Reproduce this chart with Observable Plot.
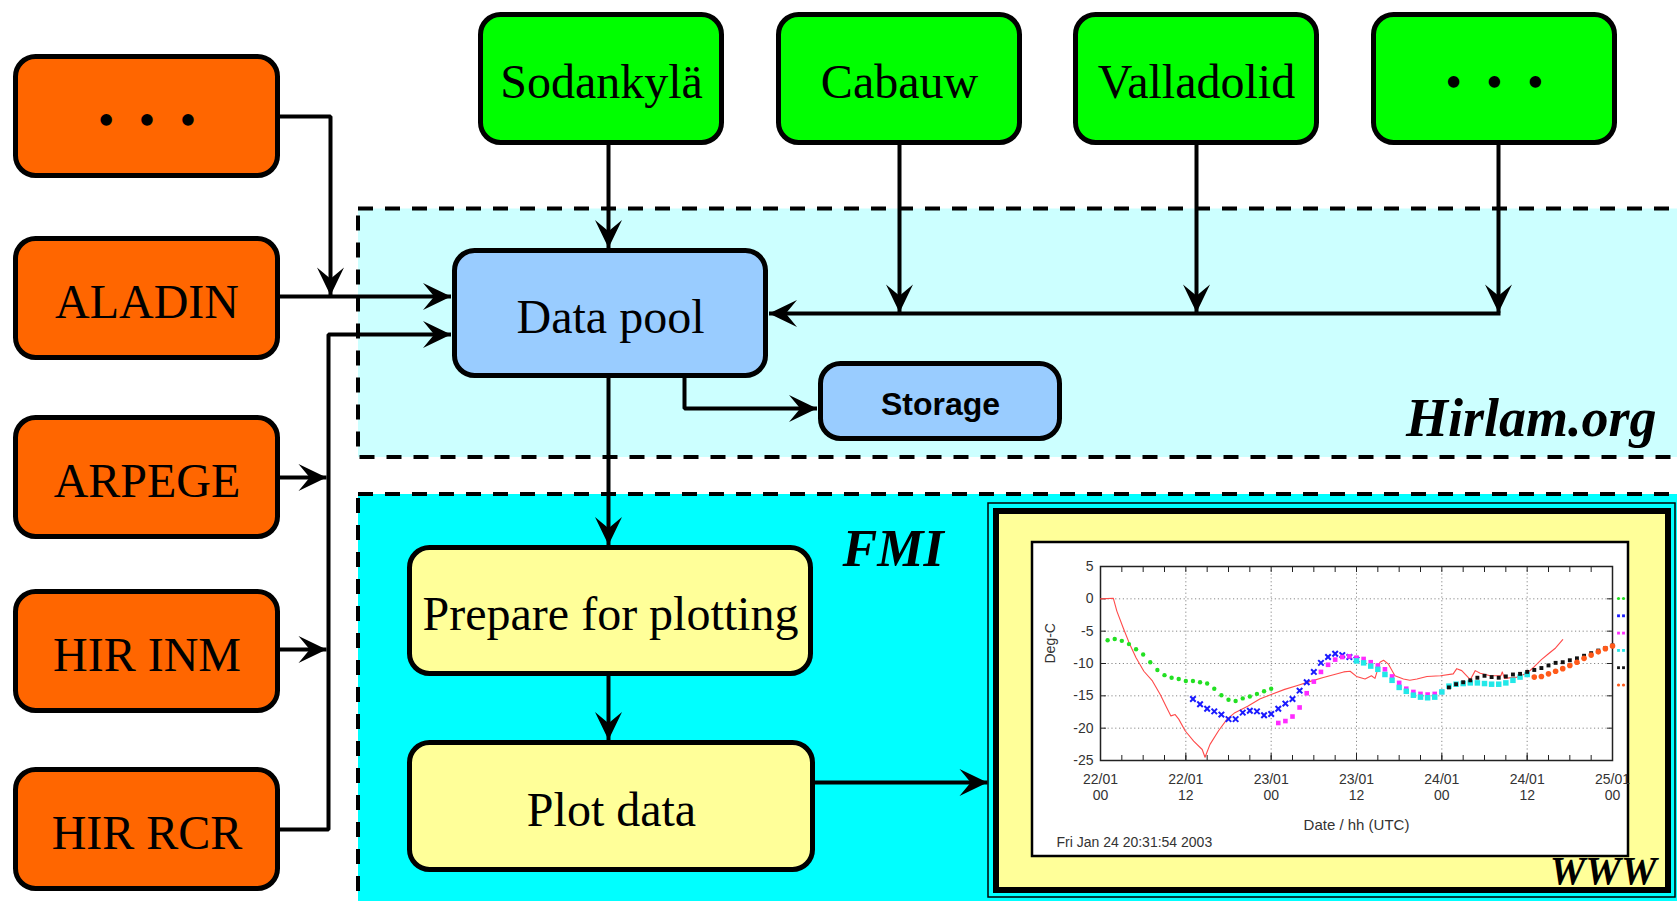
<!DOCTYPE html>
<html>
<head>
<meta charset="utf-8">
<script src="https://cdn.jsdelivr.net/npm/d3@7"></script>
<script src="https://cdn.jsdelivr.net/npm/@observablehq/plot@0.6"></script>
<style>
  html, body { margin: 0; padding: 0; background: #fff; overflow: hidden; }
  #wrap { position: relative; width: 1677px; height: 901px; }
  #chart { position: absolute; left: 1032px; top: 542px; }
</style>
</head>
<body>
<div id="wrap"><div id="diagram"></div><div id="chart"></div></div>
<script>
// ---------------- DATA ----------------
const modelNames   = ["•\u2002•\u2002•", "ALADIN", "ARPEGE", "HIR INM", "HIR RCR"];
const stationNames = ["Sodankylä", "Cabauw", "Valladolid", "•\u2002•\u2002•"];
const hirlamNodes  = ["Data pool", "Storage"];
const fmiNodes     = ["Prepare for plotting", "Plot data"];
const regionNames  = ["Hirlam.org", "FMI", "WWW"];

// embedded temperature chart (hours after 22/01/2003 00 UTC, °C)
const chartStart = Date.UTC(2003, 0, 22);
const chartHours = [0, 72];
const yTicks = [5, 0, -5, -10, -15, -20, -25];
const chartYLabel = "Deg-C";
const chartXLabel = "Date / hh (UTC)";
const chartStamp  = "Fri Jan 24 20:31:54 2003";

const observed = [[0,0],[1.8,0.1],[2.3,-1.9],[3.2,-4.5],[4.1,-7],[5,-9.1],[6.1,-11.2],[7.3,-12.7],[8.4,-14.8],
  [9.3,-16.8],[9.9,-18.1],[10.5,-17.9],[11,-18.6],[11.9,-20.4],[13.1,-22],[14.3,-23.3],[14.7,-24.5],[15.4,-22.5],
  [16.6,-20.4],[17.8,-18.6],[18.9,-17.6],[20.7,-16.6],[22.4,-15.5],[24,-14.8],[25.9,-14],[27.7,-13.4],[29.4,-12.8],
  [31.2,-12.2],[32.9,-11.7],[34.2,-11.3],[35.1,-11.2],[36,-12],[37.2,-12.4],[38.1,-11.9],[38.6,-12.3],[39.3,-9.8],
  [39.8,-9.5],[40.5,-10.1],[41.4,-11.9],[42.6,-12.4],[43.5,-12.6],[44.5,-12.4],[45.9,-12],[47.8,-11.9],[49.6,-11.6],
  [50.1,-10.8],[50.8,-11.1],[52,-12.5],[52.7,-11.1],[53.4,-11.5],[54.8,-11.9],[56.3,-11.9],[56.5,-11.3],[56.8,-12.3],
  [58.6,-12.1],[60,-11.5],[61,-10.5],[62,-9.4],[63,-8.5],[64,-7.6],[65,-6.3]];
const runGreen = [[1,-6.4],[2,-6.2],[3,-6.5],[4,-7],[5,-7.8],[6,-8.6],[7,-9.8],[8,-11],[9,-11.8],[10,-12.2],[11,-12.4],
  [12,-12.7],[13,-12.7],[14,-12.9],[15,-13.1],[16,-13.9],[17,-14.9],[18,-15.6],[19,-15.8],[20,-15.4],[21,-15.1],
  [22,-14.7],[23,-14.3],[24,-13.9]];
const runBlue = [[13,-15.5],[14,-16.3],[15,-17],[16,-17.4],[17,-17.9],[18,-18.6],[19,-18.6],[20,-17.6],[21,-17.3],
  [22,-17.4],[23,-18],[24,-17.8],[25,-17],[26,-16.2],[27,-15.5],[28,-14.2],[29,-12.9],[30,-11.3],[31,-9.9],[32,-9],
  [33,-8.5],[34,-8.7],[35,-9],[36,-9.4]];
const runMagenta = [[25,-19.2],[26,-18.9],[27,-18.2],[28,-16.8],[29,-14.6],[30,-12.8],[31,-11.3],[32,-10.2],[33,-9.4],
  [34,-9],[35,-8.9],[36,-9.1],[37,-9.3],[38,-9.8],[39,-10.3],[40,-10.9],[41,-12],[42,-13],[43,-13.9],[44,-14.4],
  [45,-14.7],[46,-14.8],[47,-14.7],[48,-14.4]];
const runCyan = [[36,-9.6],[37,-9.9],[38,-10.4],[39,-10.9],[40,-11.7],[41,-12.6],[42,-13.7],[43,-14.3],[44,-14.9],
  [45,-15.2],[46,-15.3],[47,-15.2],[48,-14.4],[49,-13.5],[50,-13.2],[51,-13.1],[52,-13],[53,-13],[54,-13.1],[55,-13.2],
  [56,-13.2],[57,-13],[58,-12.6],[59,-12.1],[60,-11.7]];
const runBlack = [[49,-13.7],[50,-13.2],[51,-12.9],[52,-12.6],[53,-12.2],[54,-11.9],[55,-12.1],[56,-12.2],[57,-12],
  [58,-11.7],[59,-11.6],[60,-11.3],[61,-11],[62,-10.7],[63,-10.3],[64,-9.9],[65,-9.8],[66,-9.5],[67,-9.2],[68,-8.8],
  [69,-8.4],[70,-8],[71,-7.6],[72,-7.2]];
const runOrange = [[61,-12.1],[62,-12],[63,-11.6],[64,-11.2],[65,-10.8],[66,-10.3],[67,-9.8],[68,-9.2],[69,-8.7],
  [70,-8.2],[71,-7.7],[72,-7.3]];

// ---------------- LAYOUT / STYLE ----------------
const W = 1677, H = 901;
const C = { orange: "#ff6600", green: "#00ff00", blue: "#99ccff", yellow: "#ffff99",
            lightCyan: "#ccffff", cyan: "#00ffff" };
const modelCy = [116, 298, 477, 651, 829];
const modelX = [15.5, 277.5], modelHalf = 59.5;
const stationLeft = [478, 776, 1073, 1371], stationW = 246, stationY = [14.5, 142.5];
const dataPool = { x1: 454.5, x2: 765.5, y1: 250.5, y2: 375.5 };
const storage  = { x1: 820.5, x2: 1059.5, y1: 363.5, y2: 438.5 };
const prep     = { x1: 409.5, x2: 810.5, y1: 547.5, y2: 673.5 };
const plotBox  = { x1: 409.5, x2: 812.5, y1: 742.5, y2: 869.5 };
const serif = "Liberation Serif, Times New Roman, serif";
const sans = "Liberation Sans, Arial, sans-serif";

const boxes = [
  ...modelNames.map((label, i) => ({ label, x1: modelX[0], x2: modelX[1], y1: modelCy[i] - modelHalf, y2: modelCy[i] + modelHalf, fill: C.orange, kind: "serif" })),
  ...stationNames.map((label, i) => ({ label, x1: stationLeft[i] + 2.5, x2: stationLeft[i] + stationW - 2.5, y1: stationY[0], y2: stationY[1], fill: C.green, kind: "serif" })),
  { label: hirlamNodes[0], ...dataPool, fill: C.blue, kind: "serif" },
  { label: hirlamNodes[1], ...storage, fill: C.blue, kind: "sans" },
  { label: fmiNodes[0], ...prep, fill: C.yellow, kind: "serif" },
  { label: fmiNodes[1], ...plotBox, fill: C.yellow, kind: "serif" }
];
const regions = [
  { x1: 358, x2: 1700, y1: 208.5, y2: 457, fill: C.lightCyan },
  { x1: 358, x2: 1700, y1: 494, y2: 930, fill: C.cyan }
];
const frameOuter = [{ x1: 988, x2: 1675, y1: 503, y2: 897 }];
const frameInner = [{ x1: 996, x2: 1668, y1: 511, y2: 890 }];
const panel = [{ x1: 1032, x2: 1628, y1: 542, y2: 856 }];

const poolCx = 608, busX = 328, dropX = 330;
const stationCx = stationLeft.map((l, i) => i === 0 ? poolCx : l + stationW / 2 + (i === 3 ? 4 : 0));
const feedY = 313;
const links = [
  { id: "m0", head: "down",  pts: [[modelX[1], modelCy[0]], [dropX, modelCy[0]], [dropX, modelCy[1] - 3]] },
  { id: "m1", head: "right", pts: [[modelX[1], modelCy[1] - 2], [dataPool.x1 - 4, modelCy[1] - 2]] },
  { id: "m2", head: "right", pts: [[modelX[1], modelCy[2]], [busX - 2, modelCy[2]]] },
  { id: "m3", head: "right", pts: [[modelX[1], modelCy[3] - 2], [busX - 2, modelCy[3] - 2]] },
  { id: "bus", head: "right", pts: [[modelX[1], modelCy[4]], [busX, modelCy[4]], [busX, 334], [dataPool.x1 - 4, 334]] },
  { id: "s0", head: "down", pts: [[stationCx[0], stationY[1]], [stationCx[0], dataPool.y1 - 3]] },
  ...[1, 2, 3].map(i => ({ id: "s" + i, head: "down", pts: [[stationCx[i], stationY[1]], [stationCx[i], feedY - 1]] })),
  { id: "feed", head: "left", pts: [[stationCx[3] + 2, feedY], [dataPool.x2 + 3, feedY]] },
  { id: "store", head: "right", pts: [[684, dataPool.y2], [684, 408], [storage.x1 - 4, 408]] },
  { id: "prep", head: "down", pts: [[poolCx, dataPool.y2], [poolCx, prep.y1 - 3]] },
  { id: "plot", head: "down", pts: [[poolCx, prep.y2], [poolCx, plotBox.y1 - 3]] },
  { id: "www", head: "right", pts: [[plotBox.x2, 782], [frameOuter[0].x1 - 1, 782]] }
];
const linePts = links.flatMap(l => l.pts.map(([x, y]) => ({ id: l.id, x, y })));
const tips = links.map(l => ({ head: l.head, x: l.pts[l.pts.length - 1][0], y: l.pts[l.pts.length - 1][1] }));

function headSymbol(angle) {
  const L = 28, Wd = 13.5, N = 0.6 * L;
  const c = Math.cos(angle), s = Math.sin(angle);
  const pts = [[0, 0], [-L, -Wd], [-N, 0], [-L, Wd]].map(([x, y]) => [x * c - y * s, x * s + y * c]);
  return { draw(ctx) { ctx.moveTo(pts[0][0], pts[0][1]); for (let i = 1; i < pts.length; i++) ctx.lineTo(pts[i][0], pts[i][1]); ctx.closePath(); } };
}
const heads = { right: headSymbol(0), down: headSymbol(Math.PI / 2), left: headSymbol(Math.PI) };

const regionText = [
  { text: regionNames[0], x: 1656, y: 435, size: 54, anchor: "end" },
  { text: regionNames[1], x: 842, y: 565, size: 52, anchor: "start" },
  { text: regionNames[2], x: 1656, y: 883, size: 40, anchor: "end" }
];
const regionMark = anchor => Plot.text(regionText.filter(d => d.anchor === anchor), {
  x: "x", y: "y", text: "text", fontSize: "size", textAnchor: anchor, lineAnchor: "bottom",
  fontFamily: serif, fontWeight: "bold", fontStyle: "italic", fill: "black" });

const diagram = Plot.plot({
  width: W, height: H, margin: 0,
  x: { domain: [0, W], range: [0, W], axis: null },
  y: { domain: [0, H], range: [0, H], axis: null },
  style: { background: "white", overflow: "hidden" },
  marks: [
    Plot.rect(regions, { x1: "x1", x2: "x2", y1: "y1", y2: "y2", fill: "fill", stroke: "black", strokeWidth: 4, strokeDasharray: "15,12" }),
    Plot.rect(frameOuter, { x1: "x1", x2: "x2", y1: "y1", y2: "y2", fill: "none", stroke: "black", strokeWidth: 1.5 }),
    Plot.rect(frameInner, { x1: "x1", x2: "x2", y1: "y1", y2: "y2", fill: C.yellow, stroke: "black", strokeWidth: 6 }),
    Plot.rect(panel, { x1: "x1", x2: "x2", y1: "y1", y2: "y2", fill: "white", stroke: "black", strokeWidth: 2.5 }),
    Plot.line(linePts, { x: "x", y: "y", z: "id", stroke: "black", strokeWidth: 4, strokeLinejoin: "miter", strokeLinecap: "butt" }),
    Plot.rect(boxes, { x1: "x1", x2: "x2", y1: "y1", y2: "y2", fill: "fill", stroke: "black", strokeWidth: 5, rx: 20 }),
    ...Object.keys(heads).map(k => Plot.dot(tips.filter(t => t.head === k), { x: "x", y: "y", symbol: heads[k], fill: "black", stroke: "none", r: 5 })),
    Plot.text(boxes.filter(b => b.kind === "serif"), { x: b => (b.x1 + b.x2) / 2, y: b => (b.y1 + b.y2) / 2 + 19, text: "label",
      lineAnchor: "bottom", fontFamily: serif, fontSize: 48, fill: "black" }),
    Plot.text(boxes.filter(b => b.kind === "sans"), { x: b => (b.x1 + b.x2) / 2, y: b => (b.y1 + b.y2) / 2 + 13, text: "label",
      lineAnchor: "bottom", fontFamily: sans, fontSize: 32, fontWeight: "bold", fill: "black" }),
    regionMark("end"),
    regionMark("start")
  ]
});
document.getElementById("diagram").append(diagram);

// ---------------- EMBEDDED CHART ----------------
const atHour = h => new Date(chartStart + h * 3600e3);
const rows = pairs => pairs.map(([h, v]) => ({ t: atHour(h), v }));
const fmt = d => d3.utcFormat("%d/%m")(d) + "\n" + d3.utcFormat("%H")(d);
const ink = "#333";
const legendMarks = [
  { fill: "#22e022", symbol: "circle" },
  { fill: "#1a1aff", symbol: "square" },
  { fill: "#ff2bff", symbol: "square" },
  { fill: "#22e8e8", symbol: "square" },
  { fill: "#111", symbol: "square" },
  { fill: "#ff5a1a", symbol: "circle" }
];

const chart = Plot.plot({
  width: 596, height: 314,
  marginLeft: 68, marginRight: 16, marginTop: 24, marginBottom: 96,
  style: { background: "transparent", overflow: "visible", fontFamily: sans, color: ink },
  x: { type: "utc", domain: chartHours.map(atHour), label: null },
  y: { domain: [-25, 5], label: null },
  marks: [
    Plot.gridX({ ticks: d3.utcHour.every(12), stroke: "#888", strokeOpacity: 1, strokeDasharray: "1.2,2.6" }),
    Plot.gridY({ ticks: yTicks, stroke: "#888", strokeOpacity: 1, strokeDasharray: "1.2,2.6" }),
    Plot.axisX({ anchor: "bottom", ticks: d3.utcHour.every(3), tickSize: -5, tickFormat: () => "", stroke: "#222", label: null }),
    Plot.axisX({ anchor: "top", ticks: d3.utcHour.every(3), tickSize: -5, tickFormat: () => "", stroke: "#222", label: null }),
    Plot.axisX({ anchor: "bottom", ticks: d3.utcHour.every(12), tickSize: -7, tickPadding: 19, tickFormat: fmt,
      fontSize: 14, lineHeight: 1.15, fill: ink, stroke: "#222", label: null }),
    Plot.axisY({ anchor: "left", ticks: yTicks, tickSize: -6, tickPadding: 13, tickFormat: d => String(d),
      fontSize: 14, fill: ink, stroke: "#222", label: null }),
    Plot.axisY({ anchor: "right", ticks: yTicks, tickSize: -6, tickFormat: () => "", stroke: "#222", label: null }),
    Plot.frame({ stroke: "#222", strokeWidth: 1.5 }),
    Plot.line(rows(observed), { x: "t", y: "v", stroke: "#ff4a4a", strokeWidth: 1.1 }),
    Plot.dot(rows(runGreen), { x: "t", y: "v", r: 2.2, fill: "#22e022", symbol: "circle" }),
    Plot.dot(rows(runBlue), { x: "t", y: "v", r: 2.6, stroke: "#1a1aff", strokeWidth: 2, symbol: "times" }),
    Plot.dot(rows(runMagenta), { x: "t", y: "v", r: 2.6, fill: "#ff2bff", symbol: "square" }),
    Plot.dot(rows(runCyan), { x: "t", y: "v", r: 3.1, fill: "#22e8e8", symbol: "square" }),
    Plot.dot(rows(runBlack), { x: "t", y: "v", r: 2.2, fill: "#111", symbol: "square" }),
    Plot.dot(rows(runOrange), { x: "t", y: "v", r: 2.8, fill: "#ff5a1a", symbol: "circle" }),
    ...legendMarks.flatMap((m, i) => [6, 11].map(dx =>
      Plot.dot([m], { frameAnchor: "top-right", dx, dy: 32 + i * 17.3, r: 1.6, fill: m.fill, symbol: m.symbol }))),
    Plot.text([chartYLabel], { frameAnchor: "left", dx: -50, rotate: -90, fontSize: 14, fill: ink }),
    Plot.text([chartXLabel], { frameAnchor: "bottom", dy: 69, fontSize: 15, fill: ink }),
    Plot.text([chartStamp], { frameAnchor: "bottom-left", dx: -44, dy: 86, textAnchor: "start", fontSize: 14, fill: ink })
  ]
});
document.getElementById("chart").append(chart);
</script>
</body>
</html>
